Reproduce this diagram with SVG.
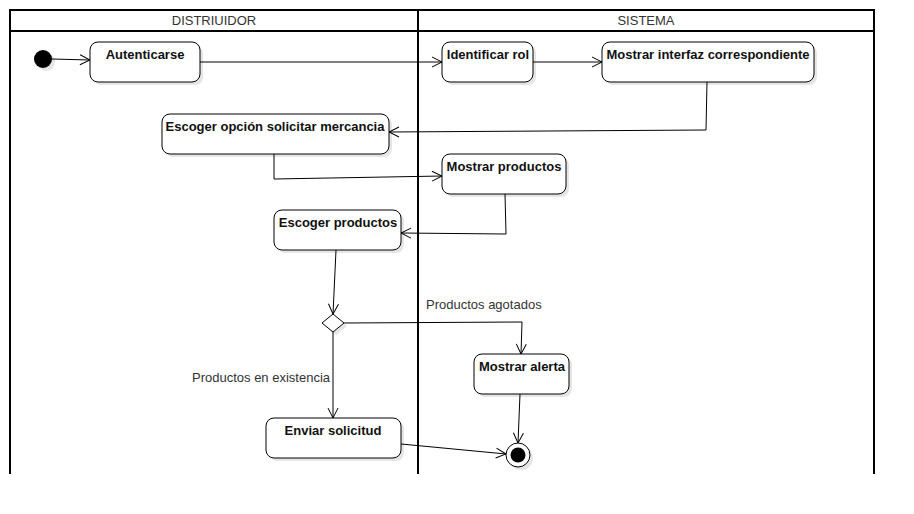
<svg xmlns="http://www.w3.org/2000/svg" width="914" height="514" viewBox="0 0 914 514">
<style>
.node rect.b{fill:#fff;stroke:#000;stroke-width:1}
.sh{fill:#000;opacity:0.1}
.nt{font-family:"Liberation Sans",Arial,sans-serif;font-size:13px;font-weight:bold;fill:#111;text-anchor:middle}
.lbl{font-family:"Liberation Sans",Arial,sans-serif;font-size:13px;fill:#333}
.hd{font-family:"Liberation Sans",Arial,sans-serif;font-size:13px;fill:#333;text-anchor:middle}
.c{fill:none;stroke:#000;stroke-width:1}
</style>
<defs>
<marker id="open" viewBox="0 0 12 12" refX="11" refY="6" markerWidth="12" markerHeight="12" markerUnits="userSpaceOnUse" orient="auto">
<path d="M1,1 L11,6 L1,11" fill="none" stroke="#000" stroke-width="1"/>
</marker>
</defs>
<rect width="914" height="514" fill="#fff"/>
<g id="lanes">
<path d="M10,474 V10 H874 V474 M418,10 V474 M10,31 H874" fill="none" stroke="#000" stroke-width="2"/>
<text class="hd" x="214" y="25">DISTRIUIDOR</text>
<text class="hd" x="646" y="25">SISTEMA</text>
</g>
<g id="connectors">
<path class="c" d="M52,59 L90,60" marker-end="url(#open)"/>
<path class="c" d="M200,62 L442,62" marker-end="url(#open)"/>
<path class="c" d="M533,62 L602,62" marker-end="url(#open)"/>
<path class="c" d="M707,82 L706,130 L389,132" marker-end="url(#open)"/>
<path class="c" d="M274,154 L274,179 L442,176" marker-end="url(#open)"/>
<path class="c" d="M505,194 L506,234 L401,233" marker-end="url(#open)"/>
<path class="c" d="M336,250 L333,314" marker-end="url(#open)"/>
<path class="c" d="M344,323 L522,322 L521,354" marker-end="url(#open)"/>
<path class="c" d="M333,332 L333,418" marker-end="url(#open)"/>
<path class="c" d="M520,394 L518,443" marker-end="url(#open)"/>
<path class="c" d="M401,444 L506,454" marker-end="url(#open)"/>
<text class="lbl" x="426" y="309">Productos agotados</text>
<text class="lbl" x="192" y="382">Productos en existencia</text>
</g>
<g id="start">
<circle cx="46" cy="62" r="9" class="sh"/>
<circle cx="43" cy="59" r="9" fill="#000"/>
</g>
<g id="autenticarse" class="node">
<rect class="sh" x="93" y="45" width="110" height="40" rx="8"/>
<rect class="b" x="90" y="42" width="110" height="40" rx="8"/>
<text class="nt" x="145" y="59">Autenticarse</text>
</g>
<g id="identificar" class="node">
<rect class="sh" x="445" y="45" width="91" height="40" rx="8"/>
<rect class="b" x="442" y="42" width="91" height="40" rx="8"/>
<text class="nt" x="488" y="59">Identificar rol</text>
</g>
<g id="mostrarInterfaz" class="node">
<rect class="sh" x="605" y="45" width="212" height="40" rx="8"/>
<rect class="b" x="602" y="42" width="212" height="40" rx="8"/>
<text class="nt" x="708" y="59">Mostrar interfaz correspondiente</text>
</g>
<g id="escogerOpcion" class="node">
<rect class="sh" x="165" y="117" width="227" height="40" rx="8"/>
<rect class="b" x="162" y="114" width="227" height="40" rx="8"/>
<text class="nt" x="275" y="131">Escoger opción solicitar mercancia</text>
</g>
<g id="mostrarProductos" class="node">
<rect class="sh" x="445" y="157" width="124" height="40" rx="8"/>
<rect class="b" x="442" y="154" width="124" height="40" rx="8"/>
<text class="nt" x="504" y="171">Mostrar productos</text>
</g>
<g id="escogerProductos" class="node">
<rect class="sh" x="277" y="213" width="127" height="40" rx="8"/>
<rect class="b" x="274" y="210" width="127" height="40" rx="8"/>
<text class="nt" x="338" y="227">Escoger productos</text>
</g>
<g id="decision">
<path class="sh" d="M336,317 L347,326 L336,335 L325,326 Z"/>
<path d="M333,314 L344,323 L333,332 L322,323 Z" fill="#fff" stroke="#000" stroke-width="1"/>
</g>
<g id="mostrarAlerta" class="node">
<rect class="sh" x="477" y="357" width="95" height="40" rx="8"/>
<rect class="b" x="474" y="354" width="95" height="40" rx="8"/>
<text class="nt" x="522" y="371">Mostrar alerta</text>
</g>
<g id="enviarSolicitud" class="node">
<rect class="sh" x="269" y="421" width="135" height="40" rx="8"/>
<rect class="b" x="266" y="418" width="135" height="40" rx="8"/>
<text class="nt" x="333" y="435">Enviar solicitud</text>
</g>
<g id="end">
<circle cx="521" cy="458" r="12" class="sh"/>
<circle cx="518" cy="455" r="12" fill="#fff" stroke="#000" stroke-width="1"/>
<circle cx="518" cy="455" r="7.5" fill="#000"/>
</g>
</svg>
